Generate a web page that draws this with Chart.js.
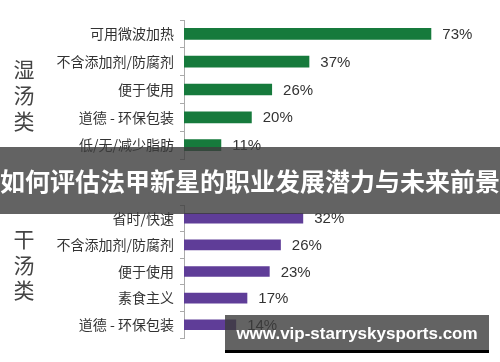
<!DOCTYPE html>
<html>
<head>
<meta charset="utf-8">
<script src="https://cdn.jsdelivr.net/npm/chart.js@4/dist/chart.umd.min.js"></script>
<style>
  body { margin: 0; background: #fff; }
  #wrap { position: relative; width: 500px; height: 362px; overflow: hidden; font-family: "Noto Sans CJK SC", sans-serif; }
  .box { position: absolute; left: 0; width: 500px; }
  .group { position: absolute; left: 12px; width: 24px; font-size: 21px; color: #444; text-align: center; }
  #banner { position: absolute; left: 0; top: 147px; width: 500px; height: 67px; background: rgba(60,60,60,0.8);
            color: #fff; font-weight: bold; font-size: 25px; line-height: 67px; text-align: center; white-space: nowrap; }
  #mark { position: absolute; left: 225px; top: 315px; width: 264px; height: 35px; background: rgba(60,60,60,0.8);
          border-bottom: 3px solid #000; color: #fff; font-family: "Liberation Sans", sans-serif; font-weight: bold;
          font-size: 17px; line-height: 38px; text-align: center; white-space: nowrap; }
</style>
</head>
<body>
<div id="wrap">
  <div class="box" style="top:0;height:165px"><canvas id="wet"></canvas></div>
  <div class="box" style="top:195px;height:150px"><canvas id="dry"></canvas></div>
  <div class="group" style="top:55px;line-height:26px">湿<br>汤<br>类</div>
  <div class="group" style="top:226px;line-height:25.5px">干<br>汤<br>类</div>
  <div id="banner">如何评估法甲新星的职业发展潜力与未来前景</div>
  <div id="mark">www.vip-starryskysports.com</div>
</div>
<script>
'use strict';

// 湿汤类
let wetLabels = ['可用微波加热', '不含添加剂/防腐剂', '便于使用', '道德 - 环保包装', '低/无/减少脂肪'];
let wetValues = [73, 37, 26, 20, 11];

// 干汤类
let dryLabels = ['省时/快速', '不含添加剂/防腐剂', '便于使用', '素食主义', '道德 - 环保包装'];
let dryValues = [32, 26, 23, 17, 14];

// draws "xx%" after each bar
let valueLabels = {
  id: 'valueLabels',
  afterDatasetsDraw(chart) {
    let ctx = chart.ctx;
    let meta = chart.getDatasetMeta(0);
    ctx.save();
    ctx.font = '15px "Liberation Sans", sans-serif';
    ctx.fillStyle = '#333';
    ctx.textBaseline = 'middle';
    meta.data.forEach((bar, i) => {
      ctx.fillText(chart.data.datasets[0].data[i] + '%', bar.x + 11, bar.y + 1);
    });
    ctx.restore();
  }
};

function makeChart(canvasId, labels, values, color, barPct, xMax, padding) {
  return new Chart(document.getElementById(canvasId), {
    type: 'bar',
    data: {
      labels: labels,
      datasets: [{
        data: values,
        backgroundColor: color,
        barPercentage: barPct,
        categoryPercentage: 1
      }]
    },
    options: {
      indexAxis: 'y',
      responsive: true,
      maintainAspectRatio: false,
      animation: false,
      layout: { padding: padding },
      plugins: { legend: { display: false }, tooltip: { enabled: false } },
      scales: {
        x: { display: false, min: 0, max: xMax },
        y: {
          afterFit(scale) {
            scale.width = 184;
            scale.paddingTop = 0;
            scale.paddingBottom = 0;
          },
          grid: { offset: true, drawOnChartArea: false, tickLength: 4, color: '#aaa' },
          border: { color: '#aaa' },
          ticks: {
            padding: 6,
            color: '#333',
            font: { family: '"Noto Sans CJK SC", sans-serif', size: 14 }
          }
        }
      }
    },
    plugins: [valueLabels]
  });
}

makeChart('wet', wetLabels, wetValues, '#167a3c', 0.42, 80, { top: 20, bottom: 6, left: 0, right: 45 });
makeChart('dry', dryLabels, dryValues, '#5f3d98', 0.40, 80, { top: 10, bottom: 7, left: 0, right: 18 });
</script>
</body>
</html>
